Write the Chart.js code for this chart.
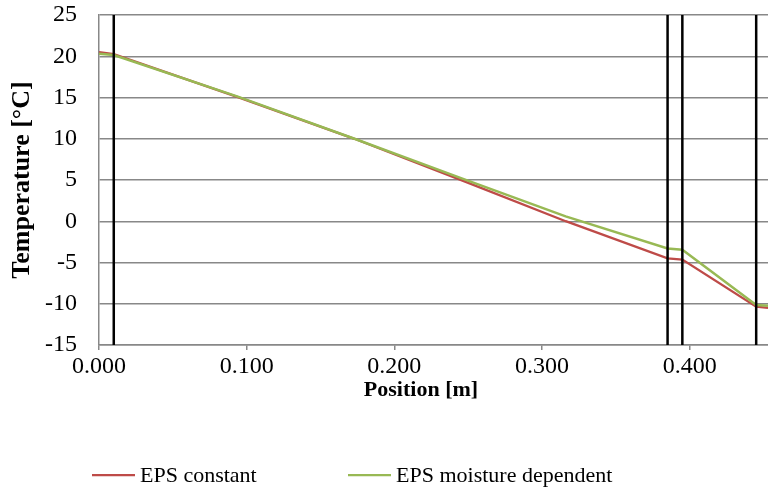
<!DOCTYPE html>
<html>
<head>
    <meta charset="UTF-8">
    <title>Temperature profile</title>
    <script src="https://cdn.jsdelivr.net/npm/chart.js@4.4.1/dist/chart.umd.min.js"></script>
    <style type="text/css">
        html, body { margin: 0; padding: 0; background: #fff; }
        #wrap { width: 768px; height: 496px; }
    </style>
</head>
<body>
<div id="wrap">
    <canvas id="tempChart" width="768" height="496"></canvas>
</div>

<script>
    // position through the wall [m]
    const positions = [0.000, 0.010, 0.094, 0.173, 0.247, 0.316, 0.385, 0.395, 0.445, 0.453];
    // temperature [°C]
    const epsConstant = [20.5, 20.25, 15.05, 10.0, 4.85, 0.0, -4.5, -4.65, -10.35, -10.5];
    const epsMoisture = [20.3, 20.15, 15.1, 10.0, 5.1, 0.6, -3.3, -3.45, -10.15, -10.25];
    // layer boundaries [m]
    const layerBounds = [0.010, 0.385, 0.395, 0.445];

    const yTicks = [-15, -10, -5, 0, 5, 10, 15, 20, 25];
    const xMax = 0.453;
    const xTitle = 'Position [m]';
    const yTitle = 'Temperature [°C]';

    const serif = "'Liberation Serif', 'Times New Roman', serif";

    function toPoints(ys) {
        return positions.map((x, i) => ({ x: x, y: ys[i] }));
    }

    const datasets = [
        {
            label: 'EPS constant',
            data: toPoints(epsConstant),
            borderColor: '#BE4B48',
            borderWidth: 2.4,
            pointRadius: 0,
            tension: 0,
            order: 2
        },
        {
            label: 'EPS moisture dependent',
            data: toPoints(epsMoisture),
            borderColor: '#98B954',
            borderWidth: 2.4,
            pointRadius: 0,
            tension: 0,
            order: 1
        }
    ];

    // vertical lines at the layer boundaries
    layerBounds.forEach(b => {
        datasets.push({
            label: '',
            data: [{ x: b, y: yTicks[0] }, { x: b, y: yTicks[yTicks.length - 1] }],
            borderColor: '#000',
            borderWidth: 2.5,
            pointRadius: 0,
            order: 0,
            isBound: true
        });
    });

    // x axis title and legend under the chart
    const bottomTexts = {
        id: 'bottomTexts',
        afterDraw(chart) {
            const ctx = chart.ctx;
            ctx.save();
            ctx.fillStyle = '#000';
            ctx.textBaseline = 'middle';

            ctx.font = 'bold 22px ' + serif;
            ctx.textAlign = 'center';
            ctx.fillText(xTitle, 421, 390);

            const items = chart.data.datasets.filter(d => !d.isBound);
            const y = 475;
            const starts = [92, 348];
            ctx.font = '22px ' + serif;
            ctx.textAlign = 'left';
            items.forEach((d, i) => {
                const x = starts[i];
                ctx.strokeStyle = d.borderColor;
                ctx.lineWidth = 2.25;
                ctx.beginPath();
                ctx.moveTo(x, y);
                ctx.lineTo(x + 43, y);
                ctx.stroke();
                ctx.fillText(d.label, x + 48, y + 1);
            });
            ctx.restore();
        }
    };

    new Chart(document.getElementById('tempChart'), {
        type: 'line',
        data: { datasets: datasets },
        options: {
            responsive: false,
            animation: false,
            layout: { padding: { left: 7, right: 0, top: 15, bottom: 91 } },
            plugins: {
                legend: { display: false },
                tooltip: { enabled: false }
            },
            scales: {
                x: {
                    type: 'linear',
                    min: 0,
                    max: xMax,
                    afterFit: axis => {
                        axis.height = 60;
                        axis.paddingLeft = 0;
                        axis.paddingRight = 0;
                    },
                    grid: {
                        drawOnChartArea: false,
                        drawTicks: true,
                        tickLength: 5,
                        color: '#888',
                        lineWidth: 1.5
                    },
                    border: { color: '#888', width: 1.5 },
                    ticks: {
                        stepSize: 0.1,
                        includeBounds: false,
                        padding: 2,
                        color: '#000',
                        font: { family: serif, size: 24 },
                        maxRotation: 0,
                        callback: v => v.toFixed(3)
                    },
                    title: { display: false }
                },
                y: {
                    min: yTicks[0],
                    max: yTicks[yTicks.length - 1],
                    afterFit: axis => {
                        axis.width = 92;
                        axis.paddingTop = 0;
                        axis.paddingBottom = 0;
                    },
                    grid: {
                        drawTicks: false,
                        color: '#888',
                        lineWidth: 1.5
                    },
                    border: { color: '#888', width: 1.5 },
                    afterBuildTicks: axis => {
                        axis.ticks = yTicks.map(v => ({ value: v }));
                    },
                    ticks: {
                        padding: 22,
                        color: '#000',
                        font: { family: serif, size: 24 }
                    },
                    title: {
                        display: true,
                        text: yTitle,
                        color: '#000',
                        font: { family: serif, size: 26, weight: 'bold' },
                        padding: { top: 0, bottom: 0 }
                    }
                }
            }
        },
        plugins: [bottomTexts]
    });
</script>
</body>
</html>
